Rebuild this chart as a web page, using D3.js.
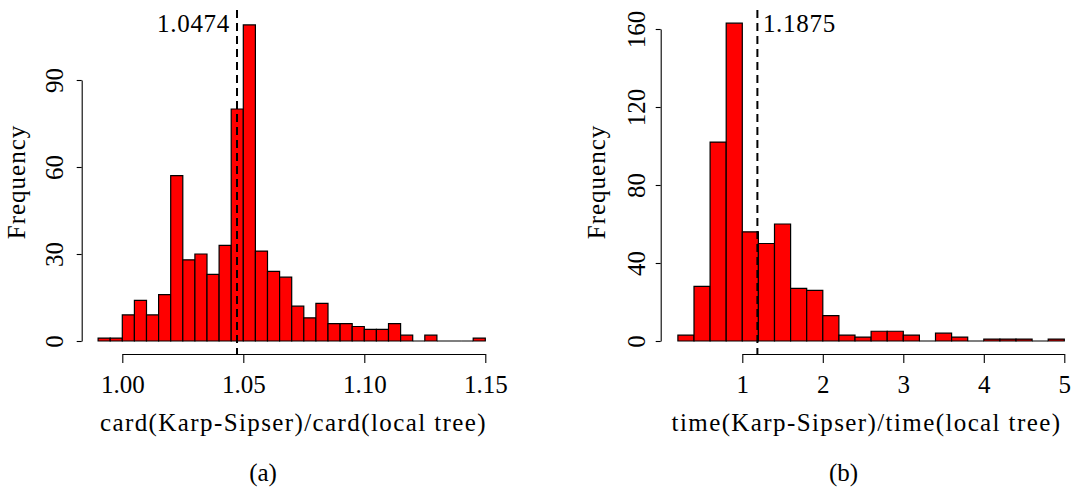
<!DOCTYPE html>
<html lang="en">
<head>
    <meta charset="UTF-8">
    <title>Karp-Sipser vs local tree - histograms</title>
    <script src="https://d3js.org/d3.v7.min.js"></script>
    <style>
        html, body {
            margin: 0;
            background: #fff;
        }
    </style>
</head>
<body>
    <div id="vis"></div>

    <script>

        /*
         *  DATA
         */
        // (a) card ratio, bins of 0.005 starting at 0.99
        var card_start = 0.99;
        var card_step = 0.005;
        var card_counts = [1, 1, 9, 14, 9, 16, 57, 28, 30, 23, 33, 80, 109, 31, 24, 22,
                           12, 8, 13, 6, 6, 5, 4, 4, 6, 2, 0, 2, 0, 0, 0, 1];
        var card_xticks = [1.00, 1.05, 1.10, 1.15];
        var card_xlabels = ["1.00", "1.05", "1.10", "1.15"];
        var card_yticks = [0, 30, 60, 90];
        var card_median = 1.0474;

        // (b) time ratio, bins of 0.2 starting at 0.2
        var time_start = 0.2;
        var time_step = 0.2;
        var time_counts = [3, 28, 102, 163, 56, 50, 60, 27, 26, 13, 3, 2,
                           5, 5, 3, 0, 4, 2, 0, 1, 1, 1, 0, 1];
        var time_xticks = [1, 2, 3, 4, 5];
        var time_xlabels = ["1", "2", "3", "4", "5"];
        var time_yticks = [0, 40, 80, 120, 160];
        var time_median = 1.1875;

        /*
         *  DECLARATION BLOCK
         */
        var FONT = '"Liberation Serif", "DejaVu Serif", serif';

        var svg = d3.select('#vis')
            .append('svg')
                .attr('width', 1074)
                .attr('height', 493);

        var panels = [
            {
                counts: card_counts, start: card_start, step: card_step,
                xticks: card_xticks, xlabels: card_xlabels, yticks: card_yticks,
                median: card_median, medianLabel: "1.0474", labelSide: "left",
                x: d3.scaleLinear().domain([1.00, 1.15]).range([122.3, 485.3]),
                y: d3.scaleLinear().domain([0, 90]).range([341, 80]),
                yAxisX: 81.7, yLabelOff: -18.4, freqX: 24.8,
                title: "card(Karp-Sipser)/card(local tree)", titleX: 293.5,
                caption: "(a)", captionX: 263
            },
            {
                counts: time_counts, start: time_start, step: time_step,
                xticks: time_xticks, xlabels: time_xlabels, yticks: time_yticks,
                median: time_median, medianLabel: "1.1875", labelSide: "right",
                x: d3.scaleLinear().domain([1, 5]).range([742.3, 1064.3]),
                y: d3.scaleLinear().domain([0, 160]).range([341, 29]),
                yAxisX: 660.7, yLabelOff: -15.7, freqX: 604.5,
                title: "time(Karp-Sipser)/time(local tree)", titleX: 866.5,
                caption: "(b)", captionX: 843.5
            }
        ];

        var axisY = 354;      // x axis line sits at bottom of plot region
        var plotTop = 10;

        function serif(sel, size) {
            sel.style('font-family', FONT)
               .style('font-size', size + 'px')
               .style('fill', '#000');
            return sel;
        }

        panels.forEach(function(p) {
            var g = svg.append('g');

            // bars as closed paths so empty bins still show a line at zero
            g.selectAll('path.bar')
                .data(p.counts)
                .enter().append('path')
                    .attr('class', 'bar')
                    .attr('fill', '#ff0000')
                    .attr('stroke', '#000')
                    .attr('stroke-width', 1.2)
                    .attr('d', function(d, i) {
                        var x0 = p.x(p.start + i * p.step);
                        var x1 = p.x(p.start + (i + 1) * p.step);
                        var y0 = p.y(0);
                        var y1 = p.y(d);
                        return 'M' + x0 + ',' + y0 + 'V' + y1 + 'H' + x1 + 'V' + y0 + 'Z';
                    });

            // x axis
            var x_axis = d3.axisBottom(p.x)
                .tickValues(p.xticks)
                .tickSize(9)
                .tickSizeOuter(0)
                .tickFormat(function(d, i) { return p.xlabels[i]; });

            var gx = g.append('g')
                .attr('class', 'x axis')
                .attr('transform', 'translate(0,' + axisY + ')')
                .call(x_axis);
            gx.selectAll('text')
                .attr('y', 39)
                .attr('dy', 0)
                .call(serif, 25);

            // y axis
            var y_axis = d3.axisLeft(p.y)
                .tickValues(p.yticks)
                .tickSize(5)
                .tickSizeOuter(0);

            var gy = g.append('g')
                .attr('class', 'y axis')
                .attr('transform', 'translate(' + p.yAxisX + ',0)')
                .call(y_axis);
            gy.selectAll('text')
                .attr('x', 0)
                .attr('dy', 0)
                .attr('text-anchor', 'middle')
                .attr('transform', 'translate(' + p.yLabelOff + ',0) rotate(-90)')
                .call(serif, 25);

            g.selectAll('.axis path, .axis line')
                .attr('stroke', '#000')
                .attr('stroke-width', 1.1);

            // median line
            var mx = p.x(p.median);
            g.append('line')
                .attr('x1', mx).attr('x2', mx)
                .attr('y1', plotTop).attr('y2', axisY)
                .attr('stroke', '#000')
                .attr('stroke-width', 2)
                .attr('stroke-dasharray', '8,5');

            g.append('text')
                .attr('x', p.labelSide == 'left' ? mx - 7 : mx + 5.5)
                .attr('y', 31.7)
                .attr('text-anchor', p.labelSide == 'left' ? 'end' : 'start')
                .call(serif, 25)
                .style('letter-spacing', '0.7px')
                .text(p.medianLabel);

            // axis titles
            g.append('text')
                .attr('x', p.titleX)
                .attr('y', 431)
                .attr('text-anchor', 'middle')
                .call(serif, 25)
                .style('letter-spacing', '1.4px')
                .text(p.title);

            g.append('text')
                .attr('transform', 'translate(' + p.freqX + ',182) rotate(-90)')
                .attr('text-anchor', 'middle')
                .call(serif, 25)
                .style('letter-spacing', '1px')
                .text('Frequency');

            // sub-figure caption
            g.append('text')
                .attr('x', p.captionX)
                .attr('y', 481)
                .attr('text-anchor', 'middle')
                .call(serif, 25)
                .text(p.caption);
        });

    </script>

</body>
</html>
